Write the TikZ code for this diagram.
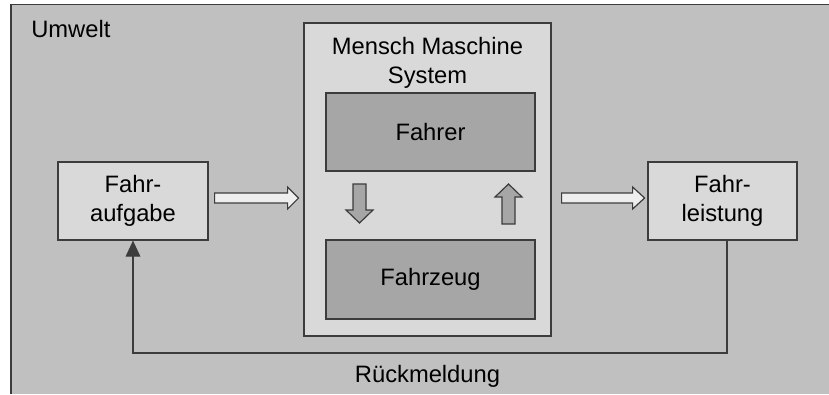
\documentclass[tikz,border=0pt]{standalone}
\usepackage{fontspec}
\setmainfont{Liberation Sans}
\usetikzlibrary{arrows.meta,calc}
\definecolor{envgray}{HTML}{C0C0C0}
\definecolor{boxlight}{HTML}{D9D9D9}
\definecolor{boxdark}{HTML}{A6A6A6}
\definecolor{linegray}{HTML}{3C3C3C}
\definecolor{arrowwhite}{HTML}{EEEEEE}
\def\u{0.75pt}
\begin{document}
\begin{tikzpicture}[x=0.75pt,y=-0.75pt,
  every node/.style={font=\fontsize{17.8pt}{21.75pt}\selectfont, text=black},
  lightbox/.style={draw=linegray, line width=0.9pt, fill=boxlight, align=center, inner sep=0pt},
  darkbox/.style={draw=linegray, line width=0.9pt, fill=boxdark, align=center, inner sep=0pt},
  hollow/.style={draw=linegray, line width=0.9pt, fill=arrowwhite, line join=miter},
  solidarrow/.style={draw=linegray, line width=0.9pt, fill=boxdark, line join=miter},
  feedback/.style={draw=linegray, line width=0.9pt, -{Triangle[length=12pt,width=11pt]}}]
\useasboundingbox (0,0) rectangle (829,394);

% surrounding environment
\fill[envgray] (11,4.5) rectangle (829,394);
\draw[linegray, line width=0.9pt] (11,394) -- (11,4.5) -- (829,4.5);
\node[anchor=base west, inner sep=0pt] (umwelt) at (31,37) {Umwelt};

% man-machine system with its two parts
\node[lightbox, minimum width=247*\u, minimum height=313*\u] (mms) at (427.5,179.5) {};
\node[inner sep=0pt, align=center, anchor=base] (mmstitle) at (427.5,83) {Mensch Maschine\\System};
\node[darkbox, minimum width=209*\u, minimum height=78*\u] (fahrer) at (430.5,132) {Fahrer};
\node[darkbox, minimum width=209*\u, minimum height=79*\u] (fzg) at (430.5,279.5) {Fahrzeug};

% task and performance
\node[lightbox, minimum width=150*\u, minimum height=78*\u] (fa) at (133,201) {Fahr-\\aufgabe};
\node[lightbox, minimum width=149*\u, minimum height=78*\u] (fl) at (722.5,201) {Fahr-\\leistung};

% hollow block arrows: task -> system -> performance
\draw[hollow] ($(fa.east)+(6,-8)$) coordinate (a1s) -- ++(73,0) -- ++(0,-6) -- ++(11,11) -- ++(-11,11) -- ++(0,-6) -- ++(-73,0) -- cycle;
\draw[hollow] ($(mms.east |- fa.east)+(10,-8)$) coordinate (a2s) -- ++(71,0) -- ++(0,-6) -- ++(12,11) -- ++(-12,11) -- ++(0,-6) -- ++(-71,0) -- cycle;

% driver acts on vehicle, vehicle reports back to driver
\draw[solidarrow] (353,184) coordinate (dn) -- (366,184) -- (366,210) -- (373,210) -- (359.5,223) -- (346,210) -- (353,210) -- cycle;
\draw[solidarrow] (502,224) coordinate (up) -- (515,224) -- (515,197) -- (522,197) -- (508.5,184) -- (495,197) -- (502,197) -- cycle;

% feedback loop
\coordinate (fbr) at (727,353);
\draw[feedback] (fl.south -| fbr) -- (fbr) -| (fa.south);
\node[anchor=base, inner sep=0pt] (rueck) at (427.5,382) {Rückmeldung};
\end{tikzpicture}
\end{document}
